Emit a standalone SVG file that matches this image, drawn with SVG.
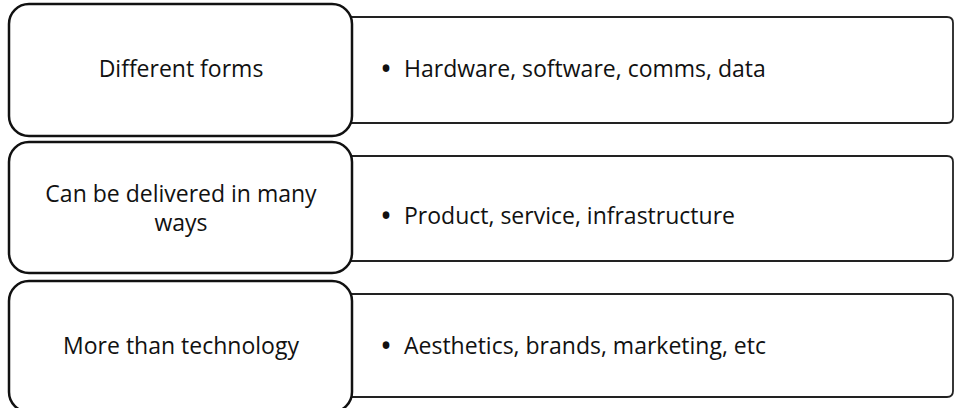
<svg xmlns="http://www.w3.org/2000/svg" width="954" height="408" viewBox="0 0 954 408">
<style>
.bg{fill:#ffffff}
.lbox{fill:#ffffff;stroke:#111111;stroke-width:2.5}
.rbox{fill:#ffffff;stroke:#222222;stroke-width:1.8}
text{font-family:"Open Sans","Noto Sans","DejaVu Sans",sans-serif;font-size:23px;fill:#111111}
.c{text-anchor:middle}
.b{font-size:32px;text-anchor:middle}
</style>
<rect class="bg" x="0" y="0" width="954" height="408"/>
<g id="connectors"></g>
<g id="row1-detail">
<path class="rbox" d="M330 17 H947 Q953 17 953 23 V117 Q953 123 947 123 H330 Z"/>
<text class="b" x="386" y="80">•</text>
<text x="404" y="77">Hardware, software, comms, data</text>
</g>
<g id="row1-main">
<rect class="lbox" x="9" y="4" width="343" height="132" rx="20" ry="20"/>
<text class="c" x="181" y="77">Different forms</text>
</g>
<g id="row2-detail">
<path class="rbox" d="M330 156 H947 Q953 156 953 162 V255 Q953 261 947 261 H330 Z"/>
<text class="b" x="386" y="227">•</text>
<text x="404" y="224">Product, service, infrastructure</text>
</g>
<g id="row2-main">
<rect class="lbox" x="9" y="142" width="343" height="131" rx="20" ry="20"/>
<text class="c" x="181" y="202">Can be delivered in many</text>
<text class="c" x="181" y="231">ways</text>
</g>
<g id="row3-detail">
<path class="rbox" d="M330 294 H947 Q953 294 953 300 V391 Q953 397 947 397 H330 Z"/>
<text class="b" x="386" y="357">•</text>
<text x="404" y="354">Aesthetics, brands, marketing, etc</text>
</g>
<g id="row3-main">
<rect class="lbox" x="9" y="281" width="343" height="131" rx="20" ry="20"/>
<text class="c" x="181" y="354">More than technology</text>
</g>
</svg>
